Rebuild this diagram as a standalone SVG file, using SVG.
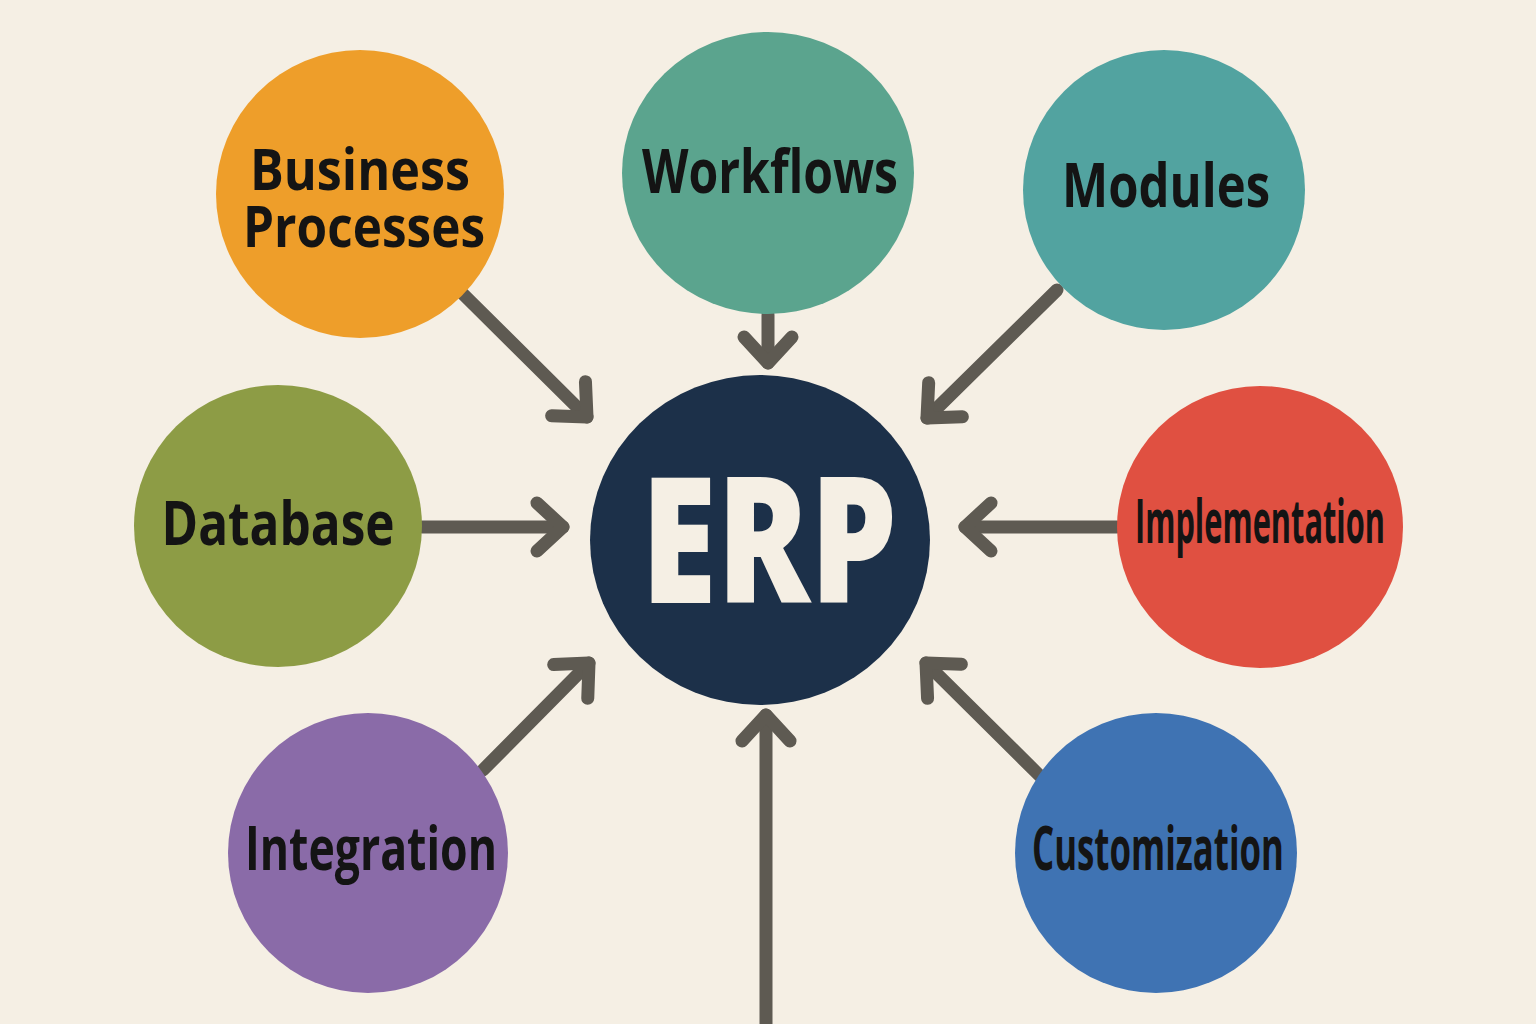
<svg xmlns="http://www.w3.org/2000/svg" width="1536" height="1024" viewBox="0 0 1536 1024">
<defs>
<style>
.lbl{font-family:"Open Sans","Noto Sans","Liberation Sans",sans-serif;font-weight:700;fill:#141414;font-size:60px}
.conn{fill:none;stroke:#5E5A52;stroke-width:13;stroke-linecap:round;stroke-linejoin:round}
</style>
<marker id="ah" markerUnits="userSpaceOnUse" markerWidth="90" markerHeight="90" viewBox="-45 -45 90 90" refX="0" refY="0" orient="auto" overflow="visible">
<path d="M-26,-24 L0,0 L-26,24" fill="none" stroke="#5E5A52" stroke-width="13" stroke-linecap="round" stroke-linejoin="round"/>
</marker>
</defs>
<rect width="1536" height="1024" fill="#F5EFE4"/>
<g id="connectors">
<line class="conn" x1="462" y1="293" x2="587" y2="417" marker-end="url(#ah)"/>
<line class="conn" x1="768" y1="315" x2="768" y2="363" marker-end="url(#ah)"/>
<line class="conn" x1="1057" y1="290" x2="927" y2="418" marker-end="url(#ah)"/>
<line class="conn" x1="422" y1="527" x2="563" y2="527" marker-end="url(#ah)"/>
<line class="conn" x1="1117" y1="527" x2="965" y2="527" marker-end="url(#ah)"/>
<line class="conn" x1="483" y1="770" x2="589" y2="663" marker-end="url(#ah)"/>
<line class="conn" x1="1040" y1="776" x2="926" y2="663" marker-end="url(#ah)"/>
<line class="conn" x1="766" y1="1030" x2="766" y2="715" marker-end="url(#ah)"/>
</g>
<g id="business-processes">
<ellipse cx="360" cy="194" rx="144" ry="144" fill="#EE9E2A"/>
<text class="lbl" x="360" y="190" text-anchor="middle" textLength="220" lengthAdjust="spacingAndGlyphs" style="font-size:57px">Business</text>
<text class="lbl" x="364" y="247" text-anchor="middle" textLength="242" lengthAdjust="spacingAndGlyphs" style="font-size:57px">Processes</text>
</g>
<g id="workflows">
<ellipse cx="768" cy="173" rx="146" ry="141" fill="#5BA48E"/>
<text class="lbl" x="770" y="193" text-anchor="middle" textLength="256" lengthAdjust="spacingAndGlyphs">Workflows</text>
</g>
<g id="modules">
<ellipse cx="1164" cy="190" rx="141" ry="140" fill="#52A3A0"/>
<text class="lbl" x="1166" y="207" text-anchor="middle" textLength="208" lengthAdjust="spacingAndGlyphs">Modules</text>
</g>
<g id="database">
<ellipse cx="278" cy="526" rx="144" ry="141" fill="#8D9C45"/>
<text class="lbl" x="278" y="545" text-anchor="middle" textLength="233" lengthAdjust="spacingAndGlyphs">Database</text>
</g>
<g id="implementation">
<ellipse cx="1260" cy="527" rx="143" ry="141" fill="#E05041"/>
<text class="lbl" x="1260" y="543" text-anchor="middle" textLength="250" lengthAdjust="spacingAndGlyphs">Implementation</text>
</g>
<g id="integration">
<ellipse cx="368" cy="853" rx="140" ry="140" fill="#8A6BA8"/>
<text class="lbl" x="371" y="870" text-anchor="middle" textLength="252" lengthAdjust="spacingAndGlyphs">Integration</text>
</g>
<g id="customization">
<ellipse cx="1156" cy="853" rx="141" ry="140" fill="#3F73B3"/>
<text class="lbl" x="1158" y="870" text-anchor="middle" textLength="252" lengthAdjust="spacingAndGlyphs">Customization</text>
</g>
<g id="erp">
<ellipse cx="760" cy="540" rx="170" ry="165" fill="#1C3049"/>
<text x="769" y="603" text-anchor="middle" textLength="256" lengthAdjust="spacingAndGlyphs" style="font-family:'Open Sans','Noto Sans','Liberation Sans',sans-serif;font-weight:800;font-size:176px;fill:#F5EFE4">ERP</text>
</g>
</svg>
